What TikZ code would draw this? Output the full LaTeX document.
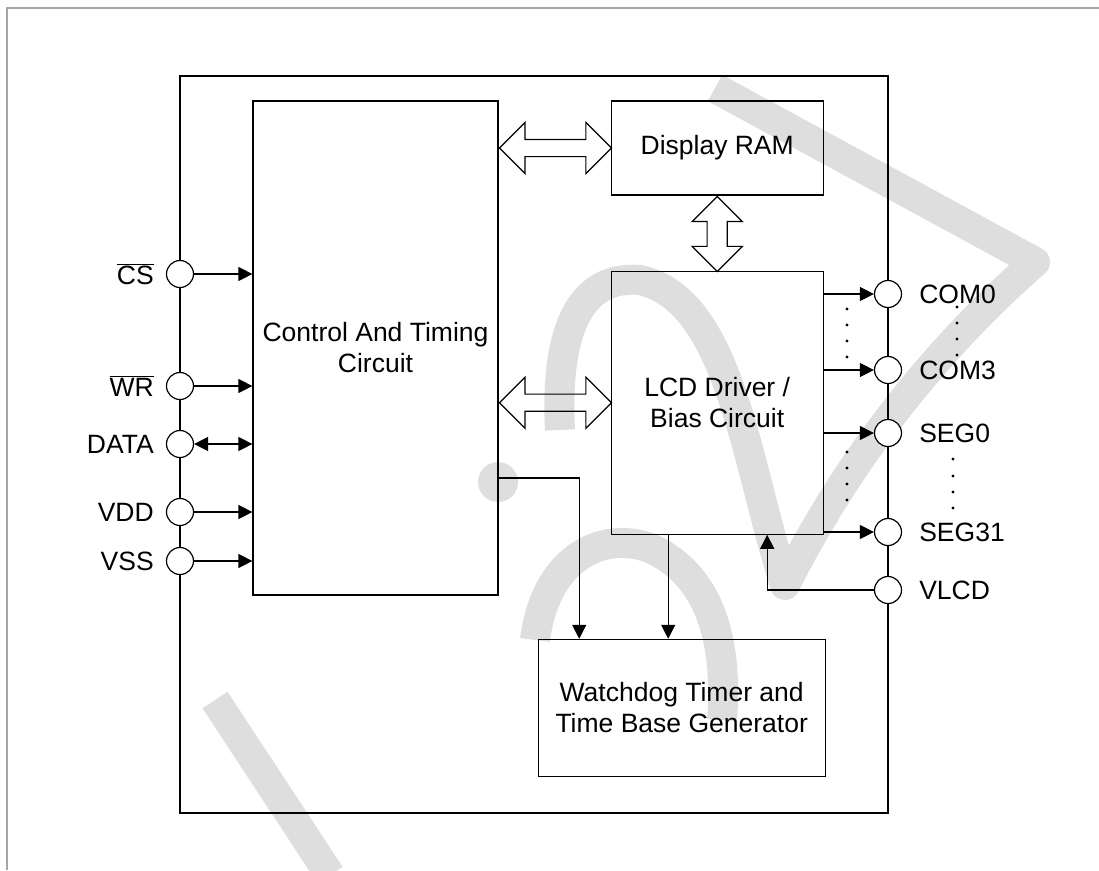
\documentclass[tikz,border=0pt]{standalone}
\usepackage{fontspec}
\setmainfont{Liberation Sans}
\usetikzlibrary{positioning, shapes.arrows, arrows.meta}
\definecolor{wmgray}{RGB}{222,222,222}

\begin{document}
\begin{tikzpicture}[
    x=1pt, y=-1pt,
    font=\fontsize{26.5}{31}\selectfont,
    block/.style={rectangle, draw, line width=1.2pt, align=center, inner sep=0pt},
    pin/.style={circle, draw, fill=white, line width=1.2pt, minimum size=27pt, inner sep=0pt},
    pinlabel/.style={inner sep=0pt},
    bus/.style={double arrow, draw, line width=1.2pt, inner sep=8pt,
                double arrow head extend=17pt},
    sig/.style={-{Triangle[length=14pt, width=14pt]}, line width=1.2pt},
    dsig/.style={{Triangle[length=14pt, width=14pt]}-{Triangle[length=14pt, width=14pt]},
                 line width=1.2pt},
    wm/.style={draw=wmgray, line width=30pt, line join=round}
  ]
  \useasboundingbox (0,0) rectangle (1099,870);

  %% watermark
  \draw[wm] (715,88) -- (1035,262)
        .. controls (975,315) and (868,420) .. (785,585)
        .. controls (745,460) and (730,300) .. (640,280)
        .. controls (580,275) and (555,330) .. (560,430);
  \draw[wm] (535,640) .. controls (545,560) and (600,530) .. (650,548)
        .. controls (710,575) and (728,640) .. (722,720);
  \fill[wmgray] (498,482) circle (20);
  \draw[wm] (215,700) -- (330,875);

  %% outer frame
  \draw[gray!70, line width=2pt] (7,870) -- (7,8) -- (1099,8);

  %% chip and blocks
  \node[block, minimum width=708pt, minimum height=737pt] (chip) at (534,444.5) {};
  \node[block, minimum width=245pt, minimum height=494pt] (ctrl) at (375.5,348)
        {Control And Timing\\Circuit};
  \node[block, minimum width=212pt, minimum height=94pt,
        right=112pt of ctrl.north east, anchor=north west] (ram) {Display RAM};
  \node[block, minimum width=212pt, minimum height=263pt, below=75pt of ram] (lcd)
        {LCD Driver /\\Bias Circuit};
  \node[block, minimum width=287pt, minimum height=137pt,
        below=104pt of lcd.south west, xshift=-73pt, anchor=north west] (wdt)
        {Watchdog Timer and\\Time Base Generator};

  %% data buses
  \node[bus, minimum height=112pt, anchor=west] (bus1) at (ctrl.east |- ram.west) {};
  \node[bus, minimum height=112pt, anchor=west] (bus2) at (ctrl.east |- lcd.west) {};
  \node[bus, minimum height=75pt, shape border rotate=90, inner sep=9.5pt,
        double arrow head extend=15pt, below=0pt of ram] (bus3) {};

  %% left pins
  \node[pin] (cs)   at (180,274) {};
  \node[pin] (wr)   at (180,386) {};
  \node[pin] (data) at (180,444) {};
  \node[pin] (vdd)  at (180,512) {};
  \node[pin] (vss)  at (180,561) {};
  \node[pinlabel, left=12pt of cs]   {\(\overline{\mbox{CS}}\)};
  \node[pinlabel, left=12pt of wr]   {\(\overline{\mbox{WR}}\)};
  \node[pinlabel, left=12pt of data] {DATA};
  \node[pinlabel, left=12pt of vdd]  {VDD};
  \node[pinlabel, left=12pt of vss]  {VSS};
  \draw[sig]  (cs)   -- (cs -| ctrl.west);
  \draw[sig]  (wr)   -- (wr -| ctrl.west);
  \draw[dsig] (data) -- (data -| ctrl.west);
  \draw[sig]  (vdd)  -- (vdd -| ctrl.west);
  \draw[sig]  (vss)  -- (vss -| ctrl.west);

  %% right pins
  \node[pin] (com0)  at (888,294) {};
  \node[pin] (com3)  at (888,370) {};
  \node[pin] (seg0)  at (888,433) {};
  \node[pin] (seg31) at (888,532) {};
  \node[pin] (vlcd)  at (888,590) {};
  \node[pinlabel, right=17pt of com0]  {COM0};
  \node[pinlabel, right=17pt of com3]  {COM3};
  \node[pinlabel, right=17pt of seg0]  {SEG0};
  \node[pinlabel, right=17pt of seg31] {SEG31};
  \node[pinlabel, right=17pt of vlcd]  {VLCD};
  \draw[sig] (lcd.east |- com0)  -- (com0);
  \draw[sig] (lcd.east |- com3)  -- (com3);
  \draw[sig] (lcd.east |- seg0)  -- (seg0);
  \draw[sig] (lcd.east |- seg31) -- (seg31);
  \foreach \y in {309,325,341,357} \fill (847,\y) circle (1.6);
  \foreach \y in {452,468,484,500} \fill (847,\y) circle (1.6);
  \foreach \y in {307,323,339,355} \fill (957,\y) circle (1.6);
  \foreach \y in {459,476,492,508} \fill (953,\y) circle (1.6);

  %% internal signals
  \draw[sig] ([yshift=-130pt]ctrl.east) -| ([xshift=-102.5pt]wdt.north);
  \draw[sig] ([xshift=-49pt]lcd.south) -- ([xshift=-49pt]lcd.south |- wdt.north);
  \draw[sig] (vlcd) -| ([xshift=50pt]lcd.south);
\end{tikzpicture}
\end{document}
